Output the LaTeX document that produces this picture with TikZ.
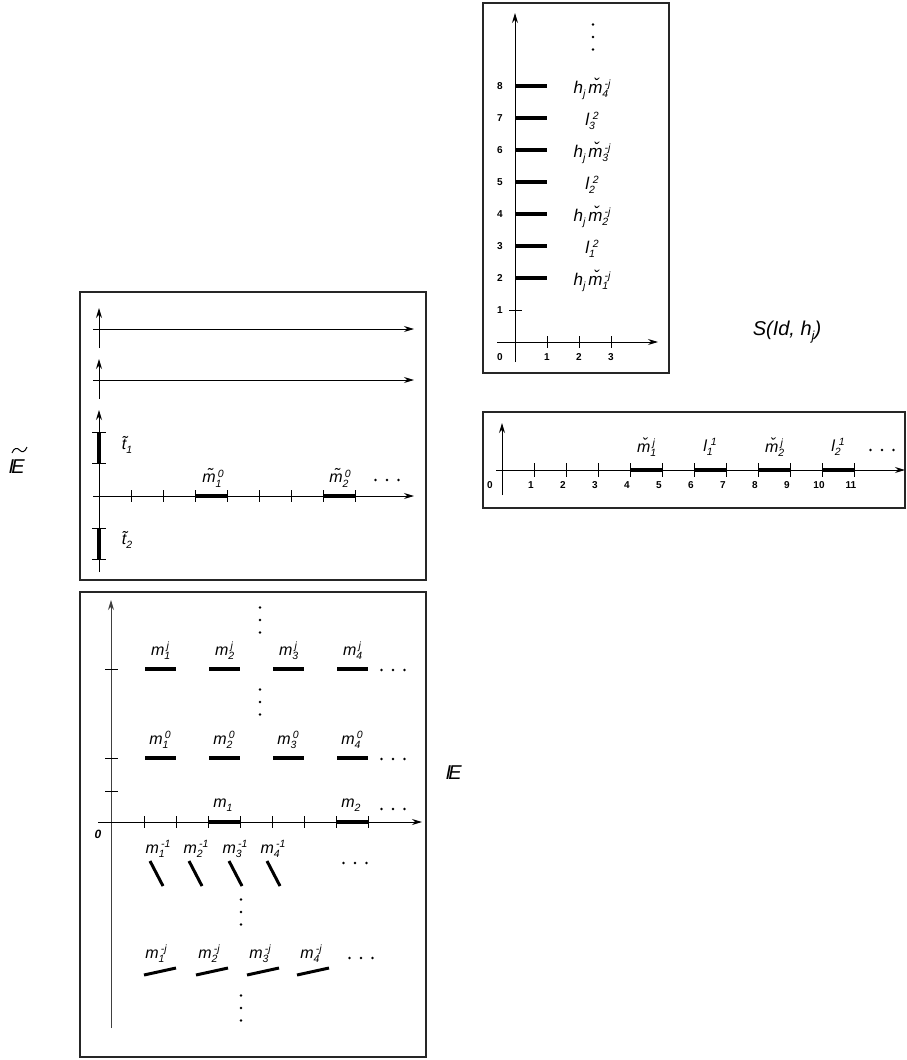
\documentclass[tikz,border=0pt]{standalone}
\usepackage{fontspec}
\setmainfont{Liberation Sans}
\usetikzlibrary{arrows.meta}
\newcommand\lss[3]{#1\begingroup\fontsize{10.5}{10.5}\selectfont\rlap{\raisebox{-0.4em}{#2}}\raisebox{0.55em}{\kern0.2em #3}\endgroup}
\newcommand\subx[2]{#1\begingroup\fontsize{10.5}{10.5}\selectfont\raisebox{-0.4em}{#2}\endgroup}
\newcommand\bbE{\makebox[0pt][l]{\kern-0.14em I}E}
\tikzset{
  x=1pt,y=-1pt,
  box/.style={draw=black!85,line width=1.3pt},
  axis/.style={line width=1pt,-{Stealth[length=10pt,width=6pt]}},
  tk/.style={line width=1pt},
  bar/.style={line width=3.2pt},
  lab/.style={font=\fontsize{16}{16}\selectfont\itshape,inner sep=0pt},
  labb/.style={font=\fontsize{17}{17}\selectfont\itshape,inner sep=0pt},
  num/.style={font=\fontsize{10}{10}\selectfont\bfseries,inner sep=0pt},
  big/.style={font=\fontsize{20}{20}\selectfont\itshape,inner sep=0pt},
  hd/.pic={\foreach \i in {-1,0,1} \fill (\i*11.5,0) circle (1.3);},
  vd/.pic={\foreach \i in {-1,0,1} \fill (0,\i*12.5) circle (1.3);}
}
\begin{document}
\begin{tikzpicture}
\useasboundingbox (0,0) rectangle (906,1060);
% ---------- top-right box ----------
\draw[box] (483,3) rectangle (669,373);
\draw[axis] (515,362) -- (515,13);
\draw[axis] (497,342) -- (658,342);
\foreach \x/\n in {547/1,579/2,611/3} {\draw[tk] (\x,336) -- (\x,348); \node[num] at (\x,357) {\n};}
\node[num] at (500,357) {0};
\draw[tk] (509,310) -- (522,310);
\foreach \k in {1,...,8} {\node[num] at (500,342-32*\k) {\k};}
\foreach \k in {2,...,8} {\draw[bar] (515,342-32*\k) -- (547,342-32*\k);}
\node[labb] (a1) at (592,281) {h\subx{}{j}\,\lss{\v{m}}{1}{-j}};
\node[labb] (a2) at (592,249) {\lss{l}{1}{\,2}};
\node[labb] (a3) at (592,217) {h\subx{}{j}\,\lss{\v{m}}{2}{-j}};
\node[labb] (a4) at (592,185) {\lss{l}{2}{\,2}};
\node[labb] (a5) at (592,153) {h\subx{}{j}\,\lss{\v{m}}{3}{-j}};
\node[labb] (a6) at (592,121) {\lss{l}{3}{\,2}};
\node[labb] (a7) at (592,89) {h\subx{}{j}\,\lss{\v{m}}{4}{-j}};
\pic at (593,37) {vd};
\node[big] (S) at (787,332) {S(Id, h\subx{}{\fontsize{13}{13}\selectfont j})};
% ---------- middle-right box ----------
\draw[box] (483,412) rectangle (905,508);
\draw[axis] (502,495) -- (502,423);
\draw[axis] (496,470) -- (905,470);
\node[num] at (490,485) {0};
\foreach \k in {1,...,11} {\draw[tk] (502+32*\k,463) -- (502+32*\k,477); \node[num] at (502+32*\k-3,485) {\k};}
\foreach \a in {630,694,758,822} {\draw[bar] (\a,470) -- (\a+32,470);}
\node[lab] (b1) at (646,447) {\lss{\v{m}}{1}{j}};
\node[lab] (b2) at (710,447) {\lss{l}{1}{\,1}};
\node[lab] (b3) at (774,447) {\lss{\v{m}}{2}{j}};
\node[lab] (b4) at (838,447) {\lss{l}{2}{\,1}};
\pic at (882,450) {hd};
% ---------- left-top box ----------
\draw[box] (80,292) rectangle (426,580);
\draw[axis] (99,348) -- (99,308);
\draw[axis] (93,329) -- (414,329);
\draw[axis] (99,399) -- (99,359);
\draw[axis] (93,380) -- (414,380);
\draw[axis] (99,572) -- (99,410);
\draw[axis] (93,496) -- (414,496);
\foreach \k in {1,...,8} {\draw[tk] (99+32*\k,490) -- (99+32*\k,502);}
\draw[bar] (195,496) -- (227,496);
\draw[bar] (323,496) -- (355,496);
\draw[bar] (99,432) -- (99,463);
\draw[bar] (99,528) -- (99,559);
\foreach \y in {432,463,528,559} {\draw[tk] (92,\y) -- (106,\y);}
\node[lab] (t1) at (127,445) {\subx{\~{t}}{1}};
\node[lab] (t2) at (127,540) {\subx{\~{t}}{2}};
\node[lab] (c1) at (213,478) {\lss{\~{m}}{1}{0}};
\node[lab] (c2) at (340,478) {\lss{\~{m}}{2}{0}};
\pic at (387,480) {hd};
\node[big] (Et) at (18,467) {\bbE};
\draw[line width=1pt] (12,453) .. controls (14,448) and (17,447) .. (19.5,450) .. controls (22,453) and (25,452) .. (27,447);
% ---------- left-bottom box ----------
\draw[box] (80,592) rectangle (426,1057);
\draw[line width=1pt,draw=black!75,-{Stealth[length=10pt,width=6pt]}] (111,1028) -- (111,600);
\draw[axis] (98,822) -- (422,822);
\foreach \k in {1,...,8} {\draw[tk] (112+32*\k,816) -- (112+32*\k,828);}
\draw[bar] (208,822) -- (240,822);
\draw[bar] (336,822) -- (368,822);
\foreach \y in {669,758,791} {\draw[tk] (105,\y) -- (118,\y);}
\node[font=\fontsize{12}{12}\selectfont\bfseries\itshape,inner sep=0pt] (z) at (98,834) {0};
\foreach \a in {145,209,273,337} {\draw[bar] (\a,669) -- (\a+31,669); \draw[bar] (\a,758) -- (\a+31,758);}
\foreach \n/\x in {1/160,2/224,3/288,4/352} {
  \node[lab] (mj\n) at (\x,651) {\lss{m}{\n}{j}};
  \node[lab] (mo\n) at (\x,740) {\lss{m}{\n}{0}};
}
\node[lab] (m1) at (223,805) {\subx{m}{1}};
\node[lab] (m2) at (351,805) {\subx{m}{2}};
\pic at (393,670) {hd};
\pic at (393,759) {hd};
\pic at (393,809) {hd};
\pic at (260,620) {vd};
\pic at (260,702) {vd};
% negative rows
\foreach \n/\x in {1/158,2/196,3/235,4/273} {\node[lab] (mn\n) at (\x,849) {\lss{m}{\n}{-1}};}
\foreach \a in {150,189,229,267} {\draw[bar,line width=3pt] (\a,861) -- (\a+13,886);}
\pic at (355,863) {hd};
\pic at (241,912) {vd};
\foreach \n/\x in {1/156,2/209,3/260,4/311} {\node[lab] (mm\n) at (\x,954) {\lss{m}{\n}{-j}};}
\foreach \a in {144,196,247,297} {\draw[bar,line width=3pt] (\a,975) -- (\a+32,968);}
\pic at (361,958) {hd};
\pic at (241,1008) {vd};
\node[big] (E) at (455,773) {\bbE};
\end{tikzpicture}
\end{document}
